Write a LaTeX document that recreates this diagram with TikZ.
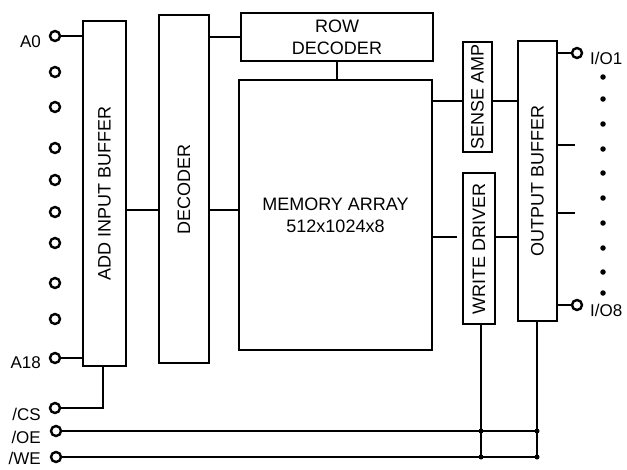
\documentclass[tikz,border=0pt]{standalone}
\usepackage{fontspec}
\setmainfont{Liberation Sans}
\begin{document}
\begin{tikzpicture}[x=1pt,y=-1pt,
  box/.style={draw, line width=2.4pt, inner sep=0pt, font=\fontsize{18}{22}\selectfont, align=center},
  vtext/.style={rotate=90, font=\fontsize{18}{22}\selectfont},
  wire/.style={line width=2.4pt},
  pinc/.style={circle, draw, line width=2.4pt, fill=white, minimum size=10pt, inner sep=0pt},
  lab/.style={font=\fontsize{17}{20}\selectfont, inner sep=0pt},
  dotn/.style={circle, fill=black, minimum size=5.5pt, inner sep=0pt},
  jn/.style={circle, fill=black, minimum size=5pt, inner sep=0pt}]
\useasboundingbox (0,0) rectangle (627,469);

% boxes
\node[box, minimum width=43pt, minimum height=345pt] (aib) at (104.5,193.5) {};
\node[vtext] at (aib.center) {ADD INPUT BUFFER};
\node[box, minimum width=50pt, minimum height=348pt] (dec) at (184,189) {};
\node[vtext] at (dec.center) {DECODER};
\node[box, minimum width=192pt, minimum height=48pt] (row) at (337,37) {ROW\\DECODER};
\node[box, minimum width=193pt, minimum height=270pt] (mem) at (335.5,215) {MEMORY ARRAY\\512x1024x8};
\node[box, minimum width=29pt, minimum height=110pt] (sa) at (477.5,97) {};
\node[vtext] at (sa.center) {SENSE AMP};
\node[box, minimum width=32pt, minimum height=151pt] (wd) at (479,248.5) {};
\node[vtext] at (wd.center) {WRITE DRIVER};
\node[box, minimum width=39pt, minimum height=280pt] (ob) at (537.5,181) {};
\node[vtext] at (ob.center) {OUTPUT BUFFER};

% internal connections
\draw[wire] (aib.east |- 0,210) -- (dec.west |- 0,210);
\draw[wire] (dec.east |- 0,210) -- (mem.west |- 0,210);
\draw[wire] (dec.east |- row.west) -- (row.west);
\draw[wire] (row.south) -- (mem.north -| row.south);
\draw[wire] (mem.east |- 0,101) -- (sa.west |- 0,101);
\draw[wire] (sa.east |- 0,101) -- (ob.west |- 0,101);
\coordinate (wdin) at (457,237);
\draw[wire] (mem.east |- wdin) -- (wdin);
\draw[wire] (wd.east |- 0,237) -- (ob.west |- 0,237);

% address pins
\foreach \n/\y in {a0/36, p1/72, p2/107, p3/148, p4/180, p5/212, p6/243, p7/283, p8/319, a18/358}{
  \node[pinc] (\n) at (55,\y) {};
}
\draw[wire] (a0) -- (a0 -| aib.west);
\draw[wire] (a18) -- (a18 -| aib.west);
\node[lab, anchor=east] at (41,42) {A0};
\node[lab, anchor=east] at (41,363) {A18};

% control pins
\node[pinc] (cs) at (55,408) {};
\node[pinc] (oe) at (56,431) {};
\node[pinc] (we) at (56,457) {};
\node[lab, anchor=east] at (41,414) {/CS};
\node[lab, anchor=east] at (41,437) {/OE};
\node[lab, anchor=east] at (41,458) {/WE};
\coordinate (csc) at (103,408);
\draw[wire] (cs) -- (csc) -- (csc |- aib.south);

\node[jn] (j1) at (481,431) {};
\node[jn] (j2) at (537,431) {};
\node[jn] (j3) at (481,457) {};
\node[jn] (j4) at (537,457) {};
\draw[wire] (oe) -- (j2.center);
\draw[wire] (we) -- (j4.center);
\draw[wire] (wd.south -| j3) -- (j3.center);
\draw[wire] (ob.south -| j4) -- (j4.center);

% I/O pins
\node[pinc] (io1) at (577,53) {};
\node[pinc] (io8) at (577,305) {};
\draw[wire] (ob.east |- io1) -- (io1);
\draw[wire] (ob.east |- io8) -- (io8);
\node[lab, anchor=west] at (590,58) {I/O1};
\node[lab, anchor=west] at (590,310) {I/O8};
\coordinate (s1) at (575,145);
\coordinate (s2) at (575,213);
\draw[wire] (ob.east |- s1) -- (s1);
\draw[wire] (ob.east |- s2) -- (s2);
\foreach \y [count=\i] in {77,99,124,149,173,198,223,248,272,293}{
  \node[dotn] (d\i) at (603,\y) {};
}
\end{tikzpicture}
\end{document}
